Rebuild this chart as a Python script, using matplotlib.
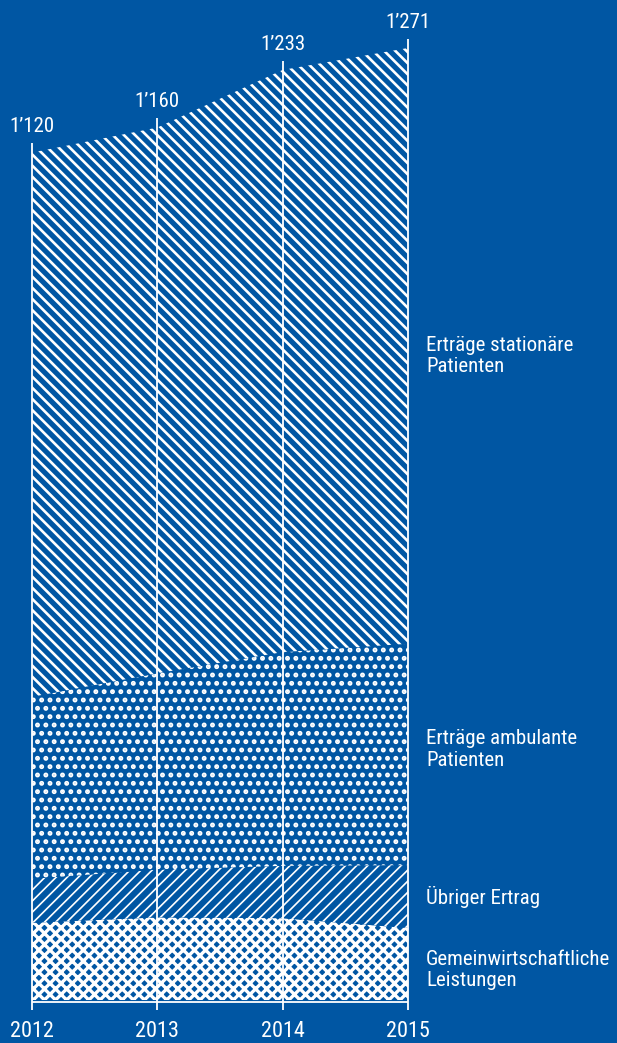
import matplotlib
matplotlib.use("Agg")
import matplotlib.pyplot as plt
from matplotlib import font_manager
import numpy as np

# Werte (Mio. CHF)
years        = [2012, 2013, 2014, 2015]
total_labels = ["1’120", "1’160", "1’233", "1’271"]
gemein       = [102, 109, 108, 95]
uebrig       = [58, 63, 69, 83]
ambulant     = [240, 259, 282, 292]
stationaer   = [718, 720, 768, 786]

series_names = ["Gemeinwirtschaftliche\nLeistungen",
                "Übriger Ertrag",
                "Erträge ambulante\nPatienten",
                "Erträge stationäre\nPatienten"]

BLUE  = "#0056a3"
WHITE = "#ffffff"


def pickFont():
    # schmale Schrift bevorzugen, sonst Roboto etwas kleiner
    candidates = [("Roboto Condensed", 1.0),
                  ("Liberation Sans Narrow", 1.03),
                  ("Roboto", 0.9),
                  ("Liberation Sans", 0.9)]
    for name, scale in candidates:
        try:
            font_manager.findfont(font_manager.FontProperties(family=name),
                                  fallback_to_default=False)
            return name, scale
        except ValueError:
            continue
    return "DejaVu Sans", 0.8


FONT, FSCALE = pickFont()
plt.rcParams["font.family"] = [FONT, "DejaVu Sans"]
plt.rcParams["hatch.color"] = WHITE


def plot(output_name):
    fig = plt.figure(figsize=(6.17, 10.43), dpi=100, facecolor=BLUE)
    ax = fig.add_axes([0, 0, 1, 1])
    ax.set_facecolor(BLUE)
    ax.set_xlim(2011.745, 2016.668)
    ax.set_ylim(-56.7, 1319.3)
    ax.axis("off")

    x = np.array(years)
    layers = [np.array(gemein), np.array(uebrig),
              np.array(ambulant), np.array(stationaer)]
    hatches = ["xxx", "///", "..", "\\\\\\"]
    hatch_lw = [2.4, 1.2, 2.3, 1.9]

    bottom = np.zeros(len(years))
    mids = []
    for layer, hatch, lw in zip(layers, hatches, hatch_lw):
        top = bottom + layer
        plt.rcParams["hatch.linewidth"] = lw
        ax.fill_between(x, bottom, top, facecolor=BLUE, edgecolor=WHITE,
                        linewidth=0, hatch=hatch)
        mids.append((bottom[-1] + top[-1]) / 2.0)
        bottom = top
    totals = bottom

    # senkrechte Jahreslinien
    for xi, tot in zip(x, totals):
        ax.plot([xi, xi], [-13, tot + 12], color=WHITE, lw=1.3,
                solid_capstyle="butt")
    ax.plot([x[0], x[-1]], [-3, -3], color=WHITE, lw=1.3,
            solid_capstyle="butt")

    # Summen oben
    for xi, tot, lab in zip(x, totals, total_labels):
        ax.text(xi, tot + 34, lab, ha="center", va="center",
                color=WHITE, fontsize=15 * FSCALE)

    # Jahre unten
    for xi in x:
        ax.text(xi, -41, str(xi), ha="center", va="center",
                color=WHITE, fontsize=16 * FSCALE)

    # Beschriftung rechts (kleine Verschiebung in Pixeln, nach unten negativ)
    shifts = [-6, 0, 5, -10]
    for name, ym, dy in zip(series_names, mids, shifts):
        ax.annotate(name, xy=(x[-1], ym), xytext=(18, dy),
                    textcoords="offset pixels", ha="left", va="center",
                    color=WHITE, fontsize=15 * FSCALE, linespacing=1.15)

    fig.savefig(output_name, dpi=100, facecolor=BLUE)
    plt.close("all")


def main():
    plot("out.png")


if __name__ == "__main__":
    main()
